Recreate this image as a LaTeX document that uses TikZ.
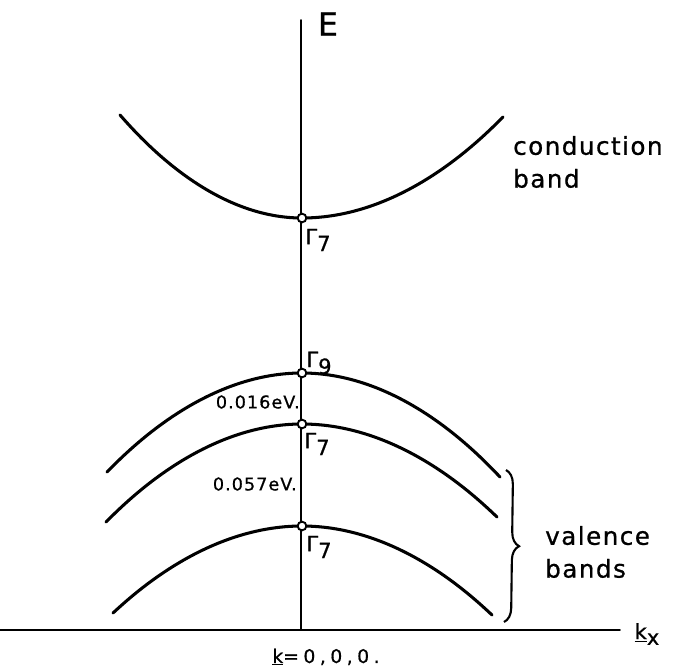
\documentclass[tikz,border=0pt]{standalone}
\usepackage{fontspec}
\setmainfont{DejaVu Sans}
\newfontfamily\handfont[LetterSpace=6, FakeBold=0.8]{DejaVu Sans}
\newfontfamily\widefont[LetterSpace=24, FakeBold=0.8]{DejaVu Sans}
\usetikzlibrary{decorations.pathreplacing}

\begin{document}
\begin{tikzpicture}[
    x=0.03cm,
    y=-0.03cm,
    axis/.style={line width=1.6pt, draw=black, line cap=round},
    band/.style={line width=2.6pt, draw=black, line cap=round},
    pt/.style={circle, draw=black, line width=1.6pt, fill=white, inner sep=0pt, minimum size=2.6mm},
    gam/.style={font=\handfont\fontsize{18}{18}\selectfont, inner sep=0pt},
    gap/.style={font=\handfont\fontsize{15}{15}\selectfont, inner sep=0pt},
    lab/.style={font=\handfont\fontsize{21}{28}\selectfont, align=left, inner sep=0pt},
    brc/.style={line width=1.8pt, decorate, decoration={brace, amplitude=12pt}}
  ]
    \useasboundingbox (0,0) rectangle (683,671);

    % axes
    \coordinate (xl) at (0,630);
    \coordinate (xr) at (620,630);
    \coordinate (o) at (301,630);
    \coordinate (etop) at (301,20);
    \draw[axis] (xl) -- (xr);
    \draw[axis] (o) -- (etop);
    \node[font=\handfont\fontsize{27}{27}\selectfont, inner sep=0pt] (E) at (328,24) {E};
    \node[font=\handfont\fontsize{18}{18}\selectfont, inner sep=0pt] (kx) at (647,634) {\underline{k}\raisebox{-0.5ex}{x}};
    \node[font=\widefont\fontsize{16}{16}\selectfont, inner sep=0pt] (korig) at (326,657) {\underline{k}=0,0,0.};

    % band extrema and ends
    \coordinate (c7) at (302,218);
    \coordinate (v9) at (302,373);
    \coordinate (v7a) at (302,424);
    \coordinate (v7b) at (302,526);
    \coordinate (cl) at (120,115);
    \coordinate (cr) at (503,117);
    \coordinate (v9l) at (107,472);
    \coordinate (v9r) at (500,477);
    \coordinate (v7al) at (106,522);
    \coordinate (v7ar) at (497,517);
    \coordinate (v7bl) at (113,613);
    \coordinate (v7br) at (492,615);

    \draw[band] (cl) parabola bend (c7) (cr);
    \draw[band] (v9l) parabola bend (v9) (v9r);
    \draw[band] (v7al) parabola bend (v7a) (v7ar);
    \draw[band] (v7bl) parabola bend (v7b) (v7br);

    \node[pt] (pc7) at (c7) {};
    \node[pt] (pv9) at (v9) {};
    \node[pt] (pv7a) at (v7a) {};
    \node[pt] (pv7b) at (v7b) {};

    \node[gam] (gc7) at (318,240) {Γ\raisebox{-0.6ex}{7}};
    \node[gam] (gv9) at (319,363) {Γ\raisebox{-0.6ex}{9}};
    \node[gam] (gv7a) at (317,444) {Γ\raisebox{-0.6ex}{7}};
    \node[gam] (gv7b) at (319,547) {Γ\raisebox{-0.6ex}{7}};

    \node[gap, anchor=east] (d1) at (300,402) {0.016eV.};
    \node[gap, anchor=east] (d2) at (297,484) {0.057eV.};

    % labels
    \node[lab, anchor=west] (cond) at (513,162) {conduction\\band};
    \coordinate (b1) at (506,470);
    \coordinate (b2) at (504,622);
    \draw[brc] (b1) -- (b2);
    \node[lab, anchor=west] (val) at (545,552) {valence\\bands};
  \end{tikzpicture}
\end{document}
